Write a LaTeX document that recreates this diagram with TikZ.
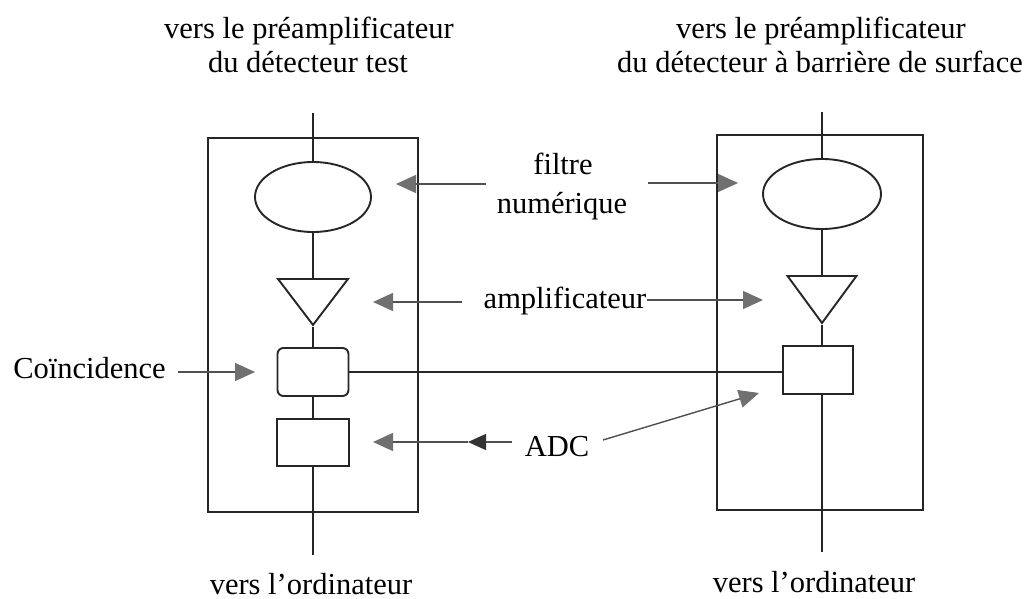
\documentclass[tikz,border=0pt]{standalone}
\usepackage{fontspec}
\setmainfont{Liberation Serif}
\usetikzlibrary{shapes.geometric,arrows.meta}
\definecolor{arrgray}{HTML}{707070}
\definecolor{linegray}{HTML}{505050}
\begin{document}
\begin{tikzpicture}[x=1pt,y=-1pt,
  lbl/.style={font=\fontsize{30.5}{36}\selectfont, inner sep=0pt, anchor=base},
  wire/.style={line width=1.9pt, black!85},
  frame/.style={draw, line width=1.9pt, black!85, inner sep=0pt},
  blk/.style={draw, line width=1.9pt, black!85, fill=white, inner sep=0pt},
  amp/.style={blk, isosceles triangle, isosceles triangle stretches, shape border rotate=270, anchor=north},
  pointer/.style={line width=1.4pt, linegray, -{Triangle[length=20pt,width=18pt,color=arrgray]}},
  darkpointer/.style={line width=1.4pt, linegray, -{Triangle[length=18pt,width=16pt,color=black!80]}}
]
\useasboundingbox (0,0) rectangle (1033,599);
\fill[white] (0,0) rectangle (1033,599);

% frames
\node[frame, minimum width=210pt, minimum height=374pt] (frameL) at (313,325) {};
\node[frame, minimum width=206pt, minimum height=375pt] (frameR) at (820,322.5) {};

% left chain
\coordinate (inL) at (313,113);
\node[blk, ellipse, minimum width=116pt, minimum height=70pt] (ellL) at (313,197) {};
\node[amp, minimum width=70pt, minimum height=46pt] (triL) at (313,278) {};
\node[blk, rounded corners=6pt, minimum width=71pt, minimum height=48pt] (coinL) at (313,372) {};
\node[blk, minimum width=72pt, minimum height=47pt] (adcL) at (313,442.5) {};
\coordinate (outL) at (313,555);

% right chain
\coordinate (inR) at (822,112);
\node[blk, ellipse, minimum width=118pt, minimum height=70pt] (ellR) at (822,194) {};
\node[amp, minimum width=69pt, minimum height=47pt] (triR) at (822,275) {};
\node[blk, minimum width=70pt, minimum height=48pt] (boxR) at (818,370) {};
\coordinate (outR) at (822,552);

\draw[wire] (inL) -- (ellL.north);
\draw[wire] (ellL.south) -- (triL.north);
\draw[wire] (triL.south) -- (coinL.north);
\draw[wire] (coinL.south) -- (adcL.north);
\draw[wire] (adcL.south) -- (outL);

\draw[wire] (inR) -- (ellR.north);
\draw[wire] (ellR.south) -- (triR.north);
\draw[wire] (triR.south) -- (triR.south |- boxR.north);
\draw[wire] (boxR.south -| outR) -- (outR);

\draw[wire] (coinL.east) -- (coinL.east -| boxR.west);

% texts
\node[lbl] (tL1) at (309,39) {vers le préamplificateur};
\node[lbl] (tL2) at (308,73) {du détecteur test};
\node[lbl] (tR1) at (821,39) {vers le préamplificateur};
\node[lbl] (tR2) at (820,73) {du détecteur à barrière de surface};
\node[lbl] (filt) at (563,175) {filtre};
\node[lbl] (num) at (562,213) {numérique};
\node[lbl] (ampl) at (565,308) {amplificateur};
\node[lbl] (coinc) at (89.5,378) {Coïncidence};
\node[lbl] (adc) at (557,456) {ADC};
\node[lbl] (bL) at (311,594) {vers l’ordinateur};
\node[lbl] (bR) at (814,592) {vers l’ordinateur};

% pointer arrows
\coordinate (fLs) at (486,184);  \coordinate (fLt) at (396,184);
\coordinate (fRs) at (648,183);  \coordinate (fRt) at (738,183);
\coordinate (aLs) at (462,302);  \coordinate (aLt) at (373,302);
\coordinate (aRs) at (647,300);  \coordinate (aRt) at (763,300);
\coordinate (cs) at (178,372);   \coordinate (ct) at (255,372);
\coordinate (dLs) at (512,442);  \coordinate (dLm) at (468,442); \coordinate (dLt) at (373,442);
\coordinate (dRs) at (603,440);  \coordinate (dRt) at (759,393);

\draw[pointer] (fLs) -- (fLt);
\draw[pointer] (fRs) -- (fRt);
\draw[pointer] (aLs) -- (aLt);
\draw[pointer] (aRs) -- (aRt);
\draw[pointer] (cs) -- (ct);
\draw[darkpointer] (dLs) -- (dLm);
\draw[pointer] (dLm) -- (dLt);
\draw[pointer] (dRs) -- (dRt);
\end{tikzpicture}
\end{document}
